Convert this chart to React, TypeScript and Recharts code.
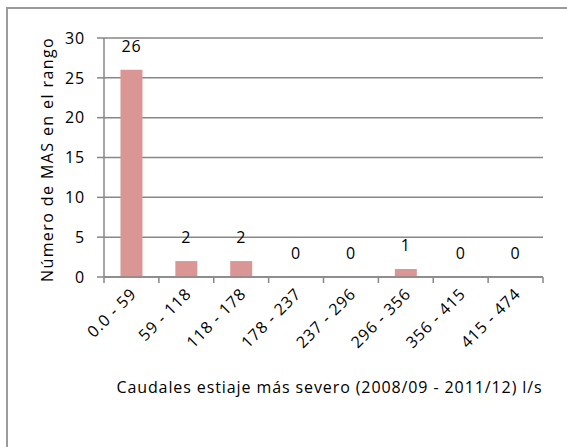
import React from "react";
import { ComposedChart, Bar, Line, XAxis, YAxis, CartesianGrid, LabelList } from "recharts";

const categories = ["0.0 - 59", "59 - 118", "118 - 178", "178 - 237", "237 - 296", "296 - 356", "356 - 415", "415 - 474"];
const counts = [26, 2, 2, 0, 0, 1, 0, 0];
const yTicks = [0, 5, 10, 15, 20, 25, 30];
const yTitle = "Número de MAS en el rango";
const xTitle = "Caudales estiaje más severo (2008/09 - 2011/12) l/s";

const data = categories.map((c, i) => ({ range: c, count: counts[i] }));

const W = 567;
const H = 447;
const M = { top: 38, right: 24, bottom: 0, left: 0 };
const Y_W = 104;
const X_H = 170;
const PLOT_W = W - M.left - M.right - Y_W;
const BAND = PLOT_W / categories.length;
const FONT = "'Open Sans', sans-serif";
const FS = 16;
const LS = 0.9;
const AXIS = "#878787";

const XTick = (props: any) => {
  const { x, y, payload, index } = props;
  const ax = x + 6;
  const ay = y + 18;
  return (
    <g>
      <line x1={x - BAND / 2} x2={x - BAND / 2} y1={y} y2={y + 6} stroke={AXIS} strokeWidth={1.5} />
      {index === categories.length - 1 && (
        <line x1={x + BAND / 2} x2={x + BAND / 2} y1={y} y2={y + 6} stroke={AXIS} strokeWidth={1.5} />
      )}
      <text
        x={ax}
        y={ay}
        transform={`rotate(-45 ${ax} ${ay})`}
        textAnchor="end"
        fontFamily={FONT}
        fontSize={FS}
        letterSpacing={LS}
        fill="#000"
      >
        {payload.value}
      </text>
    </g>
  );
};

const YLabel = (props: any) => {
  const vb = props.viewBox;
  const cx = 47;
  const cy = vb.y + vb.height / 2 + 2;
  return (
    <text x={cx} y={cy} transform={`rotate(-90 ${cx} ${cy})`} textAnchor="middle" dominantBaseline="central" fontFamily={FONT} fontSize={FS} letterSpacing={1.4} fill="#000">
      {yTitle}
    </text>
  );
};

const XLabel = (props: any) => {
  const vb = props.viewBox;
  return (
    <text x={vb.x + vb.width / 2 + 6} y={393} textAnchor="middle" fontFamily={FONT} fontSize={FS} letterSpacing={LS} fill="#000">
      {xTitle}
    </text>
  );
};

export default function App() {
  return (
    <div style={{ position: "absolute", left: 0, top: 0, width: W, height: H, overflow: "hidden", background: "#fff" }}>
      <div style={{ position: "absolute", left: 6, top: 7, width: 700, height: 600, borderTop: "2px solid #9a9a9a", borderLeft: "2px solid #9a9a9a" }} />
      <div style={{ position: "absolute", left: 0, top: 0 }}>
        <ComposedChart width={W} height={H} data={data} margin={M} barCategoryGap="30%">
          <CartesianGrid vertical={false} stroke={AXIS} strokeWidth={1.5} />
          <XAxis
            dataKey="range"
            height={X_H}
            interval={0}
            tickSize={0}
            tickMargin={0}
            tickLine={false}
            axisLine={{ stroke: AXIS, strokeWidth: 1.5 }}
            tick={<XTick />}
            label={<XLabel />}
          />
          <YAxis
            width={Y_W}
            domain={[0, 30]}
            ticks={yTicks}
            interval={0}
            tickSize={7}
            tickMargin={12}
            tickLine={{ stroke: AXIS, strokeWidth: 1.5 }}
            axisLine={{ stroke: AXIS, strokeWidth: 1.5 }}
            tick={{ fill: "#000", fontFamily: FONT, fontSize: FS, letterSpacing: LS }}
            label={<YLabel />}
          />
          <Bar dataKey="count" fill="#D99694" isAnimationActive={false} />
          <Line dataKey="count" stroke="none" dot={false} activeDot={false} legendType="none" isAnimationActive={false}>
            <LabelList dataKey="count" position="top" offset={18} fill="#000" fontFamily={FONT} fontSize={FS} letterSpacing={LS} />
          </Line>
        </ComposedChart>
      </div>
    </div>
  );
}
